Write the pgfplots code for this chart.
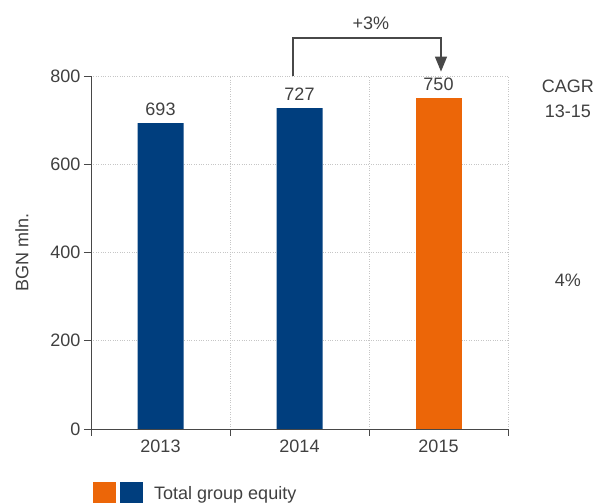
\documentclass[border=0pt]{standalone}
\usepackage{pgfplots}
\pgfplotsset{compat=1.18}
\usetikzlibrary{arrows.meta}
\usepackage{fontspec}
\setmainfont{Liberation Sans}
\definecolor{dblue}{HTML}{003E7E}
\definecolor{orng}{HTML}{EC6608}
\definecolor{txt}{HTML}{404040}
\definecolor{ax}{HTML}{484848}
\begin{document}
\begin{tikzpicture}[font=\fontsize{18bp}{21bp}\selectfont, x=1bp, y=1bp]
  \path[use as bounding box] (-91,-74) rectangle (505,429);
  \begin{axis}[
    at={(0,0)}, anchor=south west,
    scale only axis,
    width=417bp, height=353bp,
    xmin=-0.5, xmax=2.5,
    ymin=0, ymax=800,
    axis x line*=bottom,
    axis y line*=left,
    axis line style={ax, line width=0.9pt},
    xtick={0,1,2},
    xticklabels={2013,2014,2015},
    minor xtick={-0.5,0.5,1.5,2.5},
    ytick={0,200,400,600,800},
    major x tick style={draw=none},
    minor tick length=7bp,
    major tick length=7bp,
    tick align=outside,
    tick style={ax, line width=0.9pt},
    ymajorgrids, xminorgrids,
    grid style={gray!45, dotted, line width=0.7pt},
    ticklabel style={txt},
    /pgf/number format/assume math mode=true,
    ylabel={BGN mln.},
    ylabel style={txt, at={(axis description cs:-0.1655,0.5)}, anchor=center},
    ybar, bar width=46bp, bar shift=0pt,
    nodes near coords,
    nodes near coords style={txt, font=\fontsize{18bp}{21bp}\selectfont, yshift=4bp},
    clip=false,
  ]
    \addplot[fill=dblue, draw=none] coordinates {(0,693) (1,727)};
    \addplot[fill=orng, draw=none] coordinates {(2,750)};
    \draw[ax, line width=1.3pt, -{Triangle[length=15bp,width=12bp]}]
      (axis cs:0.953,800) -- (axis cs:0.953,886) -- (axis cs:2.018,886) -- (axis cs:2.018,810);
    \node[txt] at (axis cs:1.514,920) {+3\%};
    \node[txt] at (axis cs:2.93,777) {CAGR};
    \node[txt] at (axis cs:2.93,721) {13-15};
    \node[txt] at (axis cs:2.93,338) {4\%};
  \end{axis}
  \fill[orng] (2,-53) rectangle (25,-80);
  \fill[dblue] (29,-53) rectangle (52,-80);
  \node[txt, anchor=base west, inner sep=0pt] at (63,-71) {Total group equity};
\end{tikzpicture}
\end{document}
